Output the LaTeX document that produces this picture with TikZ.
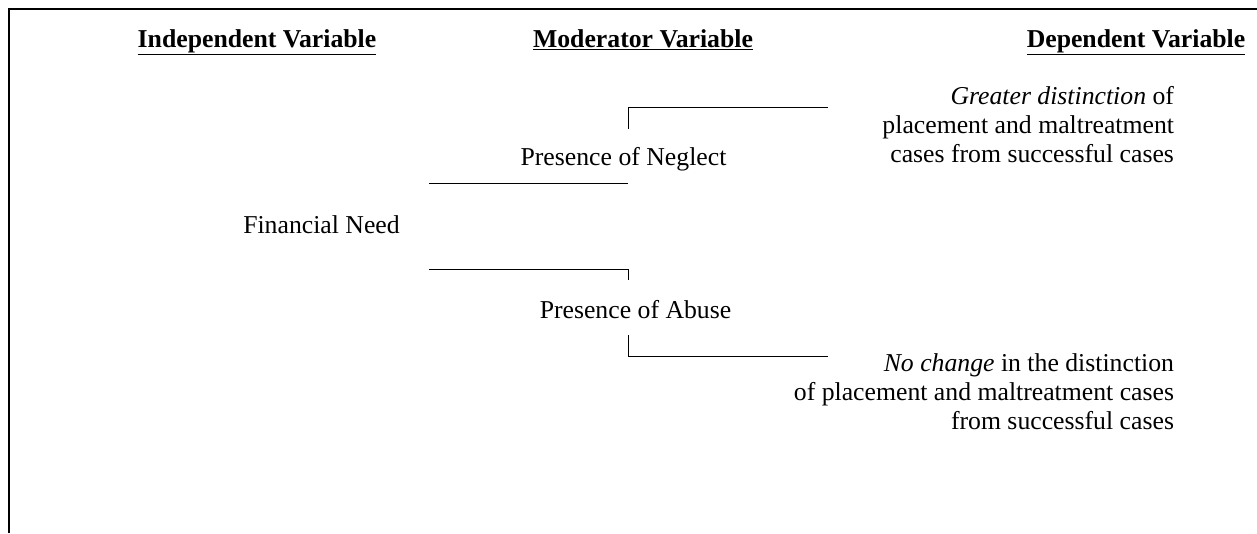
\documentclass[tikz,border=0pt]{standalone}
\usepackage{fontspec}
\setmainfont{Liberation Serif}
\begin{document}
\begin{tikzpicture}[x=0.75pt,y=-0.75pt,
  txt/.style={inner sep=0pt,outer sep=0pt,font=\fontsize{19.3}{21.4}\selectfont},
  hdr/.style={txt,font=\fontsize{19.3}{21.4}\selectfont\bfseries,anchor=base},
  rtext/.style={txt,align=right,anchor=base east},
  link/.style={line width=0.65pt},
  frame/.style={line width=1.6pt}]
\useasboundingbox (0,0) rectangle (1257,533);
\fill[white] (0,0) rectangle (1257,533);
% frame
\coordinate (fl) at (9,533);
\coordinate (fc) at (9,9);
\coordinate (fr) at (1257,9);
\draw[frame] (fl) -- (fc) -- (fr);
% headers
\node[hdr] (hind) at (257,47) {\underline{Independent Variable}};
\node[hdr] (hmod) at (643,47) {\underline{Moderator Variable}};
\node[hdr] (hdep) at (1136,47) {\underline{Dependent Variable}};
% texts
\node[txt,anchor=base] (neglect) at (623.5,165) {Presence of Neglect};
\node[txt,anchor=base] (fin) at (321.5,233) {Financial Need};
\node[txt,anchor=base] (abuse) at (635.5,318) {Presence of Abuse};
\node[rtext] (greater) at (1174,162) {\textit{Greater distinction} of\\placement and maltreatment\\cases from successful cases};
\node[rtext] (nochange) at (1174,429) {\textit{No change} in the distinction\\of placement and maltreatment cases\\from successful cases};
% connectors
\coordinate (n1) at (628,129);
\coordinate (n2) at (628,107);
\coordinate (n3) at (828,107);
\draw[link] (n1) -- (n2) -- (n3);
\coordinate (u1) at (429,183);
\coordinate (u2) at (628,183);
\draw[link] (u1) -- (u2);
\coordinate (a1) at (429,269);
\coordinate (a2) at (628,269);
\coordinate (a3) at (628,280);
\draw[link] (a1) -- (a2) -- (a3);
\coordinate (b1) at (628,335);
\coordinate (b2) at (628,356);
\coordinate (b3) at (828,356);
\draw[link] (b1) -- (b2) -- (b3);
\end{tikzpicture}
\end{document}
